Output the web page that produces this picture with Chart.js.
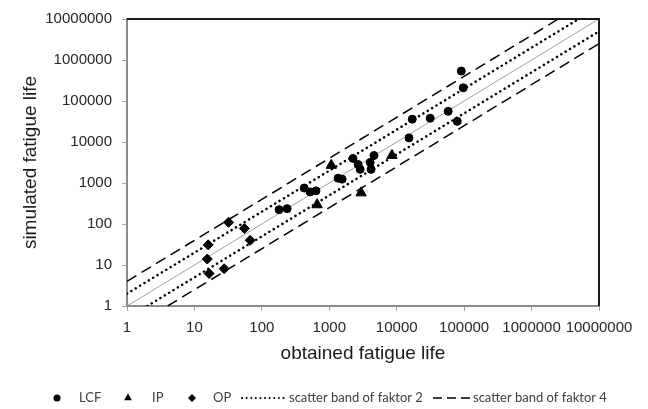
<!DOCTYPE html>
<html>
<head>
<meta charset="utf-8">
<script src="https://cdn.jsdelivr.net/npm/chart.js@4/dist/chart.umd.min.js"></script>
<style>
  html, body { margin: 0; padding: 0; background: #fff; }
  #wrap { width: 648px; height: 409px; position: relative; }
</style>
</head>
<body>
<div id="wrap"><canvas id="myChart" width="648" height="409"></canvas></div>
<script>
// valores (vida obtida x vida simulada)
const tickValues = [1, 10, 100, 1000, 10000, 100000, 1000000, 10000000];

const lcfObtained  = [180, 237, 425, 520, 635, 1350, 1550, 2250, 2680, 2870, 4040, 4170, 4600, 15200, 17000, 31400, 58000, 79000, 90700, 97000];
const lcfSimulated = [224, 237, 755, 605, 645, 1310, 1240, 3960, 2830, 2150, 3170, 2150, 4680, 12600, 36000, 38000, 56000, 32000, 537000, 210000];

const ipObtained  = [660, 1070, 2960, 8500];
const ipSimulated = [295, 2700, 575, 4700];

const opObtained  = [32, 55, 67, 16, 15.5, 16.5, 27.6];
const opSimulated = [110, 78, 40, 31, 14, 6.2, 8.1];

// linhas de referência (1:1, faixas de fator 2 e 4)
const idealX = [1, 10000000];
const idealY = [1, 10000000];
const band2UpperX = [1, 5000000];
const band2UpperY = [2, 10000000];
const band2LowerX = [2, 10000000];
const band2LowerY = [1, 5000000];
const band4UpperX = [1, 2500000];
const band4UpperY = [4, 10000000];
const band4LowerX = [4, 10000000];
const band4LowerY = [1, 2500000];

const pares = (xs, ys) => xs.map((x, i) => ({x: x, y: ys[i]}));

const legendFont = '13px Lato';
const tickFont = {family: 'Liberation Sans, Arial', size: 15};
const titleFont = {family: 'Liberation Sans, Arial', size: 19};

// moldura superior e direita da área do gráfico
const frame = {
    id: 'frame',
    afterDraw(chart) {
        const {ctx, chartArea: a} = chart;
        ctx.save();
        ctx.strokeStyle = '#1a1a1a';
        ctx.lineWidth = 2;
        ctx.beginPath();
        ctx.moveTo(a.left, a.top);
        ctx.lineTo(a.right, a.top);
        ctx.lineTo(a.right, a.bottom);
        ctx.stroke();
        ctx.restore();
    }
};

// legenda desenhada em baixo, como no Excel
const bottomLegend = {
    id: 'bottomLegend',
    afterDraw(chart) {
        const ctx = chart.ctx;
        const y = 398;
        const ds = chart.data.datasets;
        ctx.save();
        ctx.fillStyle = '#000';
        Chart.helpers.drawPoint(ctx, {pointStyle: 'circle', radius: 3.5, borderWidth: 0}, 57, y);
        Chart.helpers.drawPoint(ctx, {pointStyle: 'triangle', radius: 4.5, borderWidth: 0}, 128, y);
        Chart.helpers.drawPoint(ctx, {pointStyle: 'rectRot', radius: 4, borderWidth: 0}, 192, y);

        ctx.strokeStyle = '#000';
        ctx.lineWidth = 2;
        ctx.lineCap = 'round';
        ctx.setLineDash([0.1, 4.5]);
        ctx.beginPath();
        ctx.moveTo(242, y);
        ctx.lineTo(285, y);
        ctx.stroke();

        ctx.lineCap = 'butt';
        ctx.lineWidth = 1.5;
        ctx.setLineDash([9, 5]);
        ctx.beginPath();
        ctx.moveTo(433, y);
        ctx.lineTo(471, y);
        ctx.stroke();
        ctx.setLineDash([]);

        ctx.font = legendFont;
        ctx.fillStyle = '#404040';
        ctx.textBaseline = 'middle';
        ctx.fillText(ds[0].label, 79, y);
        ctx.fillText(ds[1].label, 152, y);
        ctx.fillText(ds[2].label, 213, y);
        ctx.fillText(ds[3].label, 289, y);
        ctx.fillText(ds[5].label, 473, y);
        ctx.restore();
    }
};

const config = {
    type: 'scatter',
    data: {
        datasets: [
            {label: 'LCF', data: pares(lcfObtained, lcfSimulated), pointStyle: 'circle', pointRadius: 4,
             backgroundColor: '#000', borderColor: '#000', order: 1},
            {label: 'IP', data: pares(ipObtained, ipSimulated), pointStyle: 'triangle', pointRadius: 6,
             backgroundColor: '#000', borderColor: '#000', order: 1},
            {label: 'OP', data: pares(opObtained, opSimulated), pointStyle: 'rectRot', pointRadius: 5,
             backgroundColor: '#000', borderColor: '#000', order: 1},
            {label: 'scatter band of faktor 2', type: 'line', data: pares(band2UpperX, band2UpperY),
             borderColor: '#000', borderWidth: 2.5, borderDash: [0.1, 5], borderCapStyle: 'round',
             pointRadius: 0, order: 2},
            {label: 'scatter band of faktor 2 (lower)', type: 'line', data: pares(band2LowerX, band2LowerY),
             borderColor: '#000', borderWidth: 2.5, borderDash: [0.1, 5], borderCapStyle: 'round',
             pointRadius: 0, order: 2},
            {label: 'scatter band of faktor 4', type: 'line', data: pares(band4UpperX, band4UpperY),
             borderColor: '#000', borderWidth: 1.5, borderDash: [11, 6], pointRadius: 0, order: 2},
            {label: 'scatter band of faktor 4 (lower)', type: 'line', data: pares(band4LowerX, band4LowerY),
             borderColor: '#000', borderWidth: 1.5, borderDash: [11, 6], pointRadius: 0, order: 2},
            {label: '1:1', type: 'line', data: pares(idealX, idealY),
             borderColor: '#a0a0a0', borderWidth: 1, pointRadius: 0, order: 3}
        ]
    },
    options: {
        responsive: false,
        animation: false,
        layout: {padding: {left: 0, right: 49, top: 14, bottom: 40}},
        plugins: {
            legend: {display: false},
            tooltip: {enabled: false}
        },
        scales: {
            x: {
                type: 'logarithmic',
                min: 1,
                max: 10000000,
                afterBuildTicks: (s) => { s.ticks = tickValues.map(v => ({value: v})); },
                afterFit: (s) => { s.height = 63; },
                ticks: {
                    callback: (v) => String(v),
                    font: tickFont,
                    color: '#262626',
                    padding: 8,
                    maxRotation: 0,
                    autoSkip: false
                },
                grid: {drawOnChartArea: false, drawTicks: true, tickLength: 5, color: '#a6a6a6'},
                border: {color: '#8c8c8c', width: 2},
                title: {display: true, text: 'obtained fatigue life', font: titleFont, color: '#1a1a1a',
                        padding: {top: 0, bottom: 4}}
            },
            y: {
                type: 'logarithmic',
                min: 1,
                max: 10000000,
                afterBuildTicks: (s) => { s.ticks = tickValues.map(v => ({value: v})); },
                afterFit: (s) => { s.width = 127; },
                ticks: {
                    callback: (v) => String(v),
                    font: tickFont,
                    color: '#262626',
                    padding: 10,
                    autoSkip: false
                },
                grid: {drawOnChartArea: false, drawTicks: true, tickLength: 5, color: '#a6a6a6'},
                border: {color: '#8c8c8c', width: 2},
                title: {display: true, text: 'simulated fatigue life', font: titleFont, color: '#1a1a1a',
                        padding: {top: 19, bottom: 0}}
            }
        }
    },
    plugins: [frame, bottomLegend]
};

const ctx = document.getElementById('myChart').getContext('2d');
new Chart(ctx, config);
</script>
</body>
</html>
